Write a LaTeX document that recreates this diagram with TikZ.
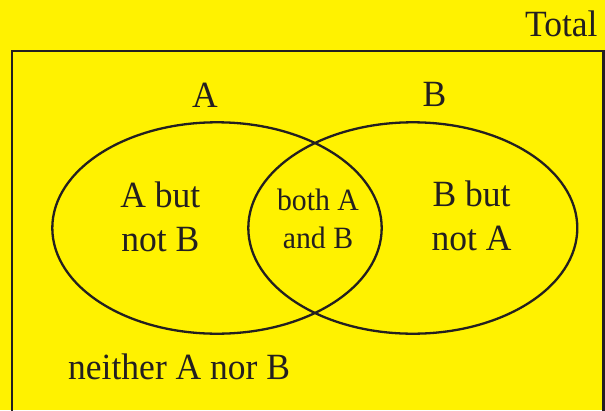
\documentclass[tikz,border=0pt]{standalone}
\usepackage{fontspec}
\setmainfont{Liberation Serif}[FakeStretch=0.96]
\definecolor{bgyellow}{HTML}{FFF200}
\definecolor{ink}{HTML}{231F20}
\tikzset{
  bigtxt/.style={font=\fontsize{37}{44}\selectfont, text=ink, inner sep=0pt, align=center},
  smalltxt/.style={font=\fontsize{31}{37.6}\selectfont, text=ink, inner sep=0pt, align=center},
  venn/.style={draw=ink, line width=2.3pt}
}
\begin{document}
\begin{tikzpicture}[x=1pt,y=-1pt]
\clip (0,0) rectangle (605,410);
\fill[bgyellow] (0,0) rectangle (605,410);
\draw[venn] (12,50.7) rectangle (603.5,430);
\draw[venn] (217,228) ellipse [x radius=164.7, y radius=105.7];
\draw[venn] (412.8,228) ellipse [x radius=164.5, y radius=105.7];
\node[bigtxt, anchor=base east] (total) at (597.7,36.7) {Total};
\node[bigtxt, anchor=base] (labA) at (205,107.7) {A};
\node[bigtxt, anchor=base] (labB) at (434.5,106.5) {B};
\node[bigtxt, anchor=base] (aonly) at (160.3,251.7) {A but\\not B};
\node[bigtxt, anchor=base] (bonly) at (471.5,250) {B but\\not A};
\node[smalltxt, anchor=base] (both) at (318,248.3) {both A\\and B};
\node[bigtxt, anchor=base west] (neither) at (68,379.3) {neither A nor B};
\end{tikzpicture}
\end{document}
